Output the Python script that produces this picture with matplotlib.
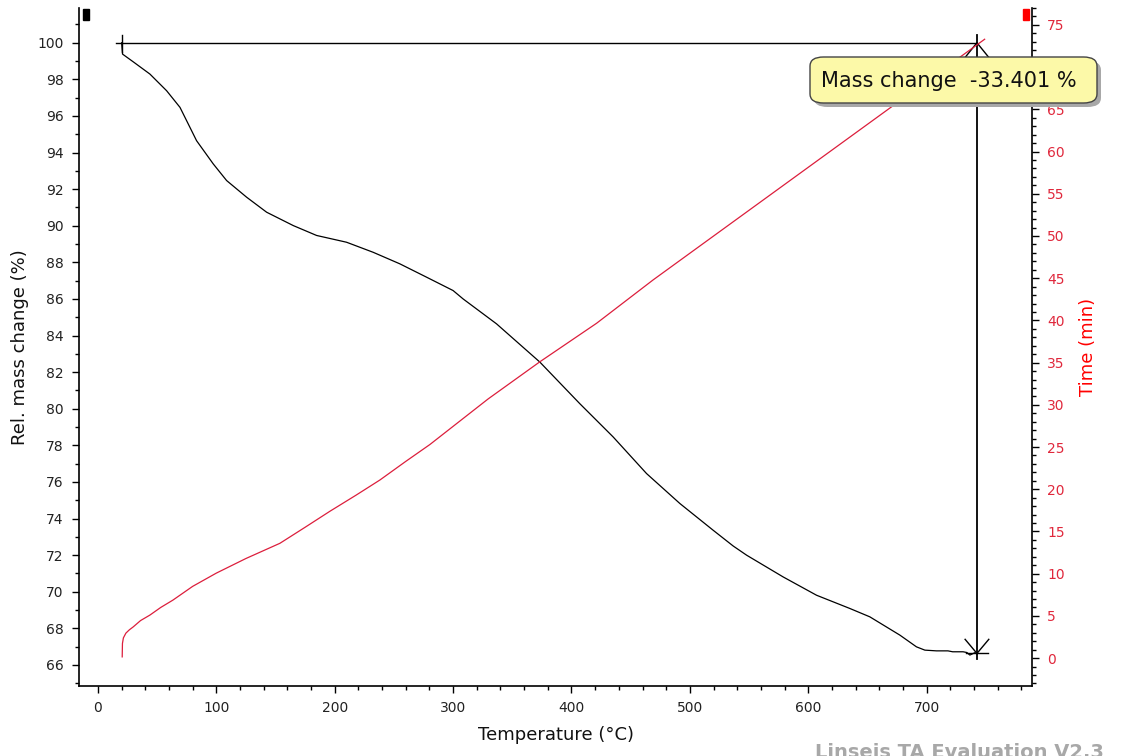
import matplotlib
matplotlib.use("Agg")
import matplotlib.pyplot as plt
from matplotlib.ticker import MultipleLocator
from matplotlib.patches import FancyBboxPatch, Rectangle

# Data (temperature in °C)
temp_mass = [20, 20.8, 30, 43.9, 58, 69.3, 76, 83.3, 97.4, 108.7, 125.6, 142.5, 165,
             184.7, 210, 232.5, 255, 277.6, 300, 308.5, 336.7, 373.3, 407, 435.2,
             463.4, 491.6, 519.7, 536.6, 547.9, 578.8, 607, 635, 652, 677.4, 691.4,
             698.5, 708.3, 718, 722, 730.8, 734, 736.5, 738.5, 740.7, 742.5]
mass = [100, 99.38, 98.95, 98.29, 97.38, 96.47, 95.6, 94.65, 93.38, 92.47, 91.56, 90.74, 90.01,
        89.47, 89.10, 88.55, 87.92, 87.19, 86.46, 86.0, 84.64, 82.55, 80.28, 78.46,
        76.46, 74.82, 73.36, 72.5, 72.0, 70.81, 69.81, 69.09, 68.63, 67.63, 66.99,
        66.81, 66.77, 66.77, 66.72, 66.72, 66.68, 66.54, 66.60, 66.67, 66.60]

temp_time = [20.5, 20.7, 21.5, 23.6, 26.5, 29.8, 36, 43.9, 53, 63.3, 80, 100, 125, 153.7,
             175, 196, 218, 238.2, 260, 280.4, 305, 329.6, 373.3, 421.2, 469, 749]
time_min = [0.15, 1.74, 2.4, 2.96, 3.35, 3.7, 4.45, 5.1, 6.0, 6.87, 8.5, 10.07, 11.8, 13.6,
            15.5, 17.4, 19.3, 21.1, 23.3, 25.3, 28.0, 30.7, 35.1, 39.66, 44.8, 73.3]

mass_change_label = "Mass change  -33.401 %"
T_start, T_end = 20, 742.5
m_start, m_end = 100.0, 66.63

RED_LINE = "#dc1e3c"
RED_TXT = "#e0283c"

fig = plt.figure(figsize=(11.22, 7.56), dpi=100)
ax = fig.add_axes([79/1122, 70/756, (1032-79)/1122, (686-8)/756])
ax.set_xlim(-16, 789)
ax.set_ylim(64.85, 101.9)

ax.plot(temp_mass, mass, color="black", lw=0.9, zorder=3)

ax2 = ax.twinx()
ax2.set_ylim(-3.3, 77.0)
ax2.plot(temp_time, time_min, color=RED_LINE, lw=0.9)

# Mass change marker lines
ax.plot([15.2, T_end], [m_start, m_start], color="black", lw=1.0)
ax.plot([T_start, T_start], [99.5, 100.4], color="black", lw=1.0)
ax.plot([T_end, T_end], [100.4, 66.3], color="black", lw=1.3)
ax.plot([T_end - 10, T_end, T_end + 10], [99.2, 100, 99.2], color="black", lw=1.0)
ax.plot([T_end - 10, T_end, T_end + 10], [67.4, m_end, 67.4], color="black", lw=1.0)
ax.plot([T_end - 9, T_end + 9], [m_end + 0.05, m_end + 0.05], color="black", lw=1.0)

# Spines / ticks
for a in (ax, ax2):
    a.spines["top"].set_visible(False)
ax.spines["right"].set_visible(False)
ax2.spines["left"].set_visible(False)
ax2.spines["bottom"].set_visible(False)
ax2.spines["right"].set_linewidth(1.2)
ax.spines["left"].set_linewidth(1.2)
ax.spines["bottom"].set_linewidth(1.2)

ax.xaxis.set_major_locator(MultipleLocator(100))
ax.xaxis.set_minor_locator(MultipleLocator(20))
ax.yaxis.set_major_locator(MultipleLocator(2))
ax.yaxis.set_minor_locator(MultipleLocator(1))
ax2.yaxis.set_major_locator(MultipleLocator(5))
ax2.yaxis.set_minor_locator(MultipleLocator(1))

ax.tick_params(axis="both", which="major", direction="out", length=5, width=1,
               labelsize=10, colors="black", labelcolor="#222222", pad=6)
ax.tick_params(axis="both", which="minor", direction="out", length=3, width=1)
ax.set_xticks(range(0, 701, 100))
ax2.tick_params(axis="y", which="major", direction="out", length=5, width=1,
                labelsize=10, colors="black", labelcolor=RED_TXT, pad=6)
ax2.tick_params(axis="y", which="minor", direction="out", length=3, width=1)
ax2.set_yticks(range(0, 76, 5))

ax.set_xlabel("Temperature (°C)", fontsize=13, color="#111111", labelpad=8)
ax.set_ylabel("Rel. mass change (%)", fontsize=13, color="#111111", labelpad=6)
ax2.set_ylabel("Time (min)", fontsize=13, color="red", labelpad=10)

# Small colored markers at top
fig.patches.append(Rectangle((83/1122, 1-20/756), 6/1122, 11/756,
                   transform=fig.transFigure, color="black"))
fig.patches.append(Rectangle((1023/1122, 1-20/756), 6/1122, 11/756,
                   transform=fig.transFigure, color="red"))

# Annotation box (shadow + box)
bx, by, bw, bh = 810/1122, 1-103/756, 287/1122, 46/756
shadow = FancyBboxPatch((bx + 4/1122, by - 4/756), bw, bh,
                        boxstyle="round,pad=0,rounding_size=0.012",
                        transform=fig.transFigure, facecolor="#a8a8a8",
                        edgecolor="none", zorder=5)
box = FancyBboxPatch((bx, by), bw, bh,
                     boxstyle="round,pad=0,rounding_size=0.012",
                     transform=fig.transFigure, facecolor="#fcf9a8",
                     edgecolor="#444444", lw=1.0, zorder=6)
fig.patches.append(shadow)
fig.patches.append(box)
fig.text(949/1122, 1-81/756, mass_change_label, ha="center", va="center",
         fontsize=15, color="#111111", zorder=7)

# Watermark (cut off at the bottom edge as in the reference)
fig.text(815/1122, 1-752/756, "Linseis TA Evaluation V2.3", fontsize=14,
         fontweight="bold", color="#a8a8a8", ha="left", va="center")

fig.savefig("out.png", dpi=100)
